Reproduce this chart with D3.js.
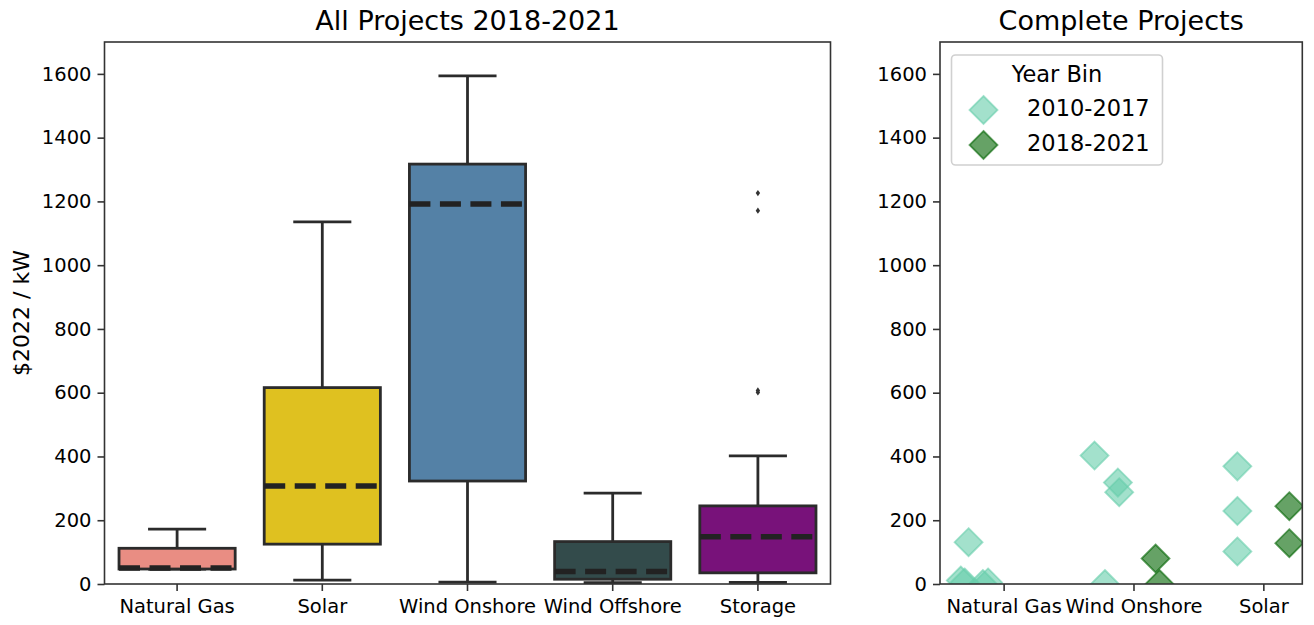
<!DOCTYPE html>
<html><head><meta charset="utf-8">
<script src="https://cdn.jsdelivr.net/npm/d3@7"></script>
<style>
body{margin:0;background:#fff;}
svg{display:block;font-family:"DejaVu Sans",sans-serif;}
</style></head>
<body>
<svg id="chart" width="1314" height="625"></svg>
<script>
// ---- Left panel: box plot summary ----
const categories = ["Natural Gas", "Solar", "Wind Onshore", "Wind Offshore", "Storage"];
const whiskerLow  = [47, 12, 6, 4, 5];
const q1          = [47, 125, 323, 15, 35];
const median      = [50, 307, 1192, 39, 148];
const q3          = [112, 616, 1317, 133, 245];
const whiskerHigh = [172, 1136, 1594, 285, 402];
const outlierCategory = ["Storage", "Storage", "Storage", "Storage"];
const outlierValues   = [1226, 1171, 607, 601];
const boxColors = ["#E98D83", "#DFC120", "#5481A6", "#334B4B", "#78127A"];
const yTicks = [0, 200, 400, 600, 800, 1000, 1200, 1400, 1600];

// ---- Right panel: strip plot ----
const scatterCategories = ["Natural Gas", "Wind Onshore", "Solar"];
const yearBins = ["2010-2017", "2018-2021"];
const earlyCat    = [0, 0, 0, 0, 0, 1, 1, 1, 1, 2, 2, 2];
const earlyJitter = [-0.27, -0.33, -0.30, -0.16, -0.12, -0.30, -0.12, -0.11, -0.22, -0.20, -0.20, -0.20];
const earlyValues = [131, 11, 5, 0, 5, 403, 318, 288, 0, 369, 229, 102];
const lateCat     = [1, 1, 2, 2];
const lateJitter  = [0.17, 0.20, 0.20, 0.20];
const lateValues  = [80, 0, 244, 128];
const binColors = ["#66CDAA", "#006400"];

const svg = d3.select("#chart");
const yTop = 42, yBottom = 584;
const L = {x0: 104.5, x1: 830.5};
const R = {x0: 940, x1: 1302.3};

const y = d3.scaleLinear().domain([0, 1700]).range([yBottom, yTop]);
const xBand = d3.scaleBand().domain(categories).range([L.x0, L.x1]).padding(0);
const xS = d3.scaleLinear().domain([-0.49, 2.3]).range([R.x0, R.x1]);

const lineCol = "#2b2b2b";
const tickFont = 19.5;

function styleAxis(g) {
  g.selectAll("path.domain").remove();
  g.selectAll(".tick line").attr("stroke", "#333").attr("stroke-width", 1.6);
  g.selectAll(".tick text").attr("font-size", tickFont).attr("fill", "#000")
    .attr("font-family", "DejaVu Sans, sans-serif");
}

const gyL = svg.append("g").attr("transform", `translate(${L.x0},0)`)
  .call(d3.axisLeft(y).tickValues(yTicks).tickSize(7).tickPadding(6).tickFormat(d3.format("d")));
styleAxis(gyL);
const gyR = svg.append("g").attr("transform", `translate(${R.x0},0)`)
  .call(d3.axisLeft(y).tickValues(yTicks).tickSize(7).tickPadding(6).tickFormat(d3.format("d")));
styleAxis(gyR);

const gxL = svg.append("g").attr("transform", `translate(0,${yBottom})`)
  .call(d3.axisBottom(xBand).tickSize(7).tickPadding(8));
styleAxis(gxL);
const gxR = svg.append("g").attr("transform", `translate(0,${yBottom})`)
  .call(d3.axisBottom(xS).tickValues([0, 1, 2]).tickFormat(i => scatterCategories[i]).tickSize(7).tickPadding(8));
styleAxis(gxR);

// ---- Boxes ----
const bw = xBand.bandwidth() * 0.8;
const boxes = categories.map((c, i) => ({c, lo: whiskerLow[i], q1: q1[i], med: median[i], q3: q3[i], hi: whiskerHigh[i], col: boxColors[i]}));
const gb = svg.append("g");
boxes.forEach(b => {
  const cx = xBand(b.c) + xBand.bandwidth() / 2;
  gb.append("line").attr("x1", cx).attr("x2", cx).attr("y1", y(b.q3)).attr("y2", y(b.hi))
    .attr("stroke", lineCol).attr("stroke-width", 2.8);
  gb.append("line").attr("x1", cx).attr("x2", cx).attr("y1", y(b.q1)).attr("y2", y(b.lo))
    .attr("stroke", lineCol).attr("stroke-width", 2.8);
  gb.append("line").attr("x1", cx - bw / 4).attr("x2", cx + bw / 4).attr("y1", y(b.hi)).attr("y2", y(b.hi))
    .attr("stroke", lineCol).attr("stroke-width", 2.8);
  gb.append("line").attr("x1", cx - bw / 4).attr("x2", cx + bw / 4).attr("y1", y(b.lo)).attr("y2", y(b.lo))
    .attr("stroke", lineCol).attr("stroke-width", 2.8);
  gb.append("rect").attr("x", cx - bw / 2).attr("width", bw)
    .attr("y", y(b.q3)).attr("height", y(b.q1) - y(b.q3))
    .attr("fill", b.col).attr("stroke", lineCol).attr("stroke-width", 2.8);
  gb.append("line").attr("x1", cx - bw / 2).attr("x2", cx + bw / 2).attr("y1", y(b.med)).attr("y2", y(b.med))
    .attr("stroke", "#222").attr("stroke-width", 5.5).attr("stroke-dasharray", "21,9.5");
});
outlierValues.forEach((v, i) => {
  const cx = xBand(outlierCategory[i]) + xBand.bandwidth() / 2;
  const cy = y(v);
  gb.append("path").attr("d", `M${cx},${cy - 3.2}L${cx + 2.2},${cy}L${cx},${cy + 3.2}L${cx - 2.2},${cy}Z`)
    .attr("fill", "#333");
});

// ---- Scatter (clipped) ----
svg.append("clipPath").attr("id", "clipR").append("rect")
  .attr("x", R.x0).attr("y", yTop).attr("width", R.x1 - R.x0).attr("height", yBottom - yTop);
const gs = svg.append("g").attr("clip-path", "url(#clipR)");
const dHalf = 14;
function diamond(cx, cy) {
  return `M${cx},${cy - dHalf}L${cx + dHalf},${cy}L${cx},${cy + dHalf}L${cx - dHalf},${cy}Z`;
}
function drawPt(g, cx, cy, col) {
  g.append("path").attr("d", diamond(cx, cy))
    .attr("fill", col).attr("fill-opacity", 0.6)
    .attr("stroke", col).attr("stroke-opacity", 0.6).attr("stroke-width", 1.8).attr("stroke-linejoin", "miter");
}
earlyValues.forEach((v, i) => drawPt(gs, xS(earlyCat[i] + earlyJitter[i]), y(v), binColors[0]));
lateValues.forEach((v, i) => drawPt(gs, xS(lateCat[i] + lateJitter[i]), y(v), binColors[1]));

// ---- Frames ----
[L, R].forEach(a => {
  svg.append("rect").attr("x", a.x0).attr("y", yTop).attr("width", a.x1 - a.x0).attr("height", yBottom - yTop)
    .attr("fill", "none").attr("stroke", "#333").attr("stroke-width", 1.6);
});

// ---- Titles ----
svg.append("text").attr("x", (L.x0 + L.x1) / 2).attr("y", 29.5).attr("text-anchor", "middle")
  .attr("font-size", 27).text("All Projects 2018-2021");
svg.append("text").attr("x", (R.x0 + R.x1) / 2).attr("y", 29.5).attr("text-anchor", "middle")
  .attr("font-size", 27).text("Complete Projects");
svg.append("text").attr("transform", `translate(29,${(yTop + yBottom) / 2}) rotate(-90)`)
  .attr("text-anchor", "middle").attr("font-size", 22).text("$2022 / kW");

// ---- Legend ----
const lg = svg.append("g");
lg.append("rect").attr("x", 951.5).attr("y", 55).attr("width", 211).attr("height", 110).attr("rx", 4)
  .attr("fill", "#fff").attr("fill-opacity", 0.8).attr("stroke", "#d0d0d0").attr("stroke-width", 1.6);
lg.append("text").attr("x", 1057).attr("y", 81.5).attr("text-anchor", "middle").attr("font-size", 22.5).text("Year Bin");
yearBins.forEach((b, i) => {
  const yy = 110 + i * 35;
  drawPt(lg, 983.5, yy, binColors[i]);
  lg.append("text").attr("x", 1027).attr("y", yy + 6).attr("font-size", 22.5).text(b);
});
</script>
</body></html>
